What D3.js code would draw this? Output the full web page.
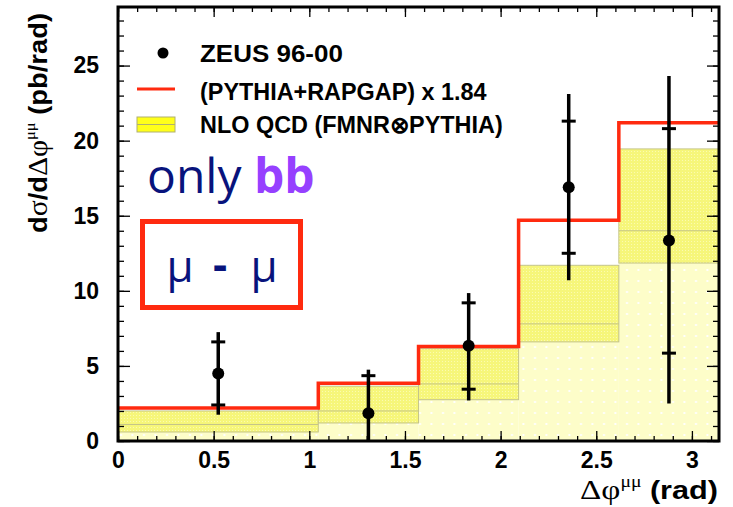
<!DOCTYPE html>
<html><head><meta charset="utf-8">
<script src="https://cdn.jsdelivr.net/npm/d3@7"></script>
<style>body{margin:0;background:#fff} svg{display:block}</style>
</head><body>
<svg id="c" width="733" height="507"></svg>
<script>
// ---- data ----
const binEdges   = [0, 1.047, 1.571, 2.094, 2.618, 3.1416];
const dataX      = [0.524, 1.309, 1.833, 2.356, 2.880];
const dataY      = [4.5, 1.85, 6.35, 16.9, 13.35];
const statUp     = [6.6, 4.35, 9.2, 21.3, 20.8];
const statDn     = [2.4, -0.6, 3.45, 12.5, 5.85];
const totUp      = [7.25, 4.75, 9.85, 23.1, 24.3];
const totDn      = [1.75, -1.0, 2.7, 10.7, 2.5];
const mcScaled   = [2.2, 3.85, 6.3, 14.7, 21.2];
const nloUp      = [2.0, 3.65, 6.15, 11.7, 19.45];
const nloCentral = [1.1, 2.0, 3.8, 7.8, 14.0];
const nloLow     = [0.6, 1.2, 2.75, 6.6, 11.85];
const xTickVals  = [0, 0.5, 1, 1.5, 2, 2.5, 3];
const xTickLabels= ["0", "0.5", "1", "1.5", "2", "2.5", "3"];
const yTickVals  = [0, 5, 10, 15, 20, 25];
const yTickLabels= ["0", "5", "10", "15", "20", "25"];
const legendLabels = ["ZEUS 96-00", "(PYTHIA+RAPGAP) x 1.84", "NLO QCD (FMNR\u2297PYTHIA)"];

// ---- setup ----
const svg = d3.select("#c");
const L = 118, R = 719, T = 7, B = 441;
const x = d3.scaleLinear().domain([0, 3.1416]).range([L, R]);
const y = d3.scaleLinear().domain([0, 28.9]).range([B, T]);
const RED = "#ff2a0f", NAVY = "#08137c", PURPLE = "#9640ff";
const SANS = "'Liberation Sans', Arial, Helvetica, sans-serif";
const GREEK = "'Liberation Serif', 'DejaVu Serif', serif";

const defs = svg.append("defs");
defs.append("clipPath").attr("id", "clip").append("rect")
  .attr("x", L).attr("y", T).attr("width", R - L).attr("height", B - T);
const pl = defs.append("pattern").attr("id", "light").attr("patternUnits", "userSpaceOnUse")
  .attr("width", 11.5).attr("height", 11);
pl.append("rect").attr("width", 11.5).attr("height", 11).attr("fill", "#fdfdc9");
pl.append("rect").attr("x", 5).attr("y", 5).attr("width", 2).attr("height", 2).attr("fill", "#ffffff");
const pb = defs.append("pattern").attr("id", "band").attr("patternUnits", "userSpaceOnUse")
  .attr("width", 3).attr("height", 3);
pb.append("rect").attr("width", 3).attr("height", 3).attr("fill", "#f6f67a");
pb.append("rect").attr("x", 1).attr("y", 1).attr("width", 1).attr("height", 1).attr("fill", "#fbfbb0");

const plot = svg.append("g").attr("clip-path", "url(#clip)");
const bins = d3.range(5);

// light region 0 -> lower
plot.selectAll("rect.light").data(bins).join("rect").attr("class", "light")
  .attr("x", i => x(binEdges[i])).attr("width", i => x(binEdges[i + 1]) - x(binEdges[i]))
  .attr("y", i => y(nloLow[i])).attr("height", i => y(0) - y(nloLow[i]))
  .attr("fill", "url(#light)");
// band lower -> upper
plot.selectAll("rect.band").data(bins).join("rect").attr("class", "band")
  .attr("x", i => x(binEdges[i])).attr("width", i => x(binEdges[i + 1]) - x(binEdges[i]))
  .attr("y", i => y(nloUp[i])).attr("height", i => y(nloLow[i]) - y(nloUp[i]))
  .attr("fill", "url(#band)").attr("stroke", "#c4c48a").attr("stroke-width", 1);
plot.selectAll("line.central").data(bins).join("line").attr("class", "central")
  .attr("x1", i => x(binEdges[i])).attr("x2", i => x(binEdges[i + 1]))
  .attr("y1", i => y(nloCentral[i])).attr("y2", i => y(nloCentral[i]))
  .attr("stroke", "#c4c48a").attr("stroke-width", 1);

// red step line
const stepPts = bins.map(i => [binEdges[i], mcScaled[i]]).concat([[binEdges[5], mcScaled[4]]]);
plot.append("path").datum(stepPts)
  .attr("d", d3.line().x(d => x(d[0])).y(d => y(d[1])).curve(d3.curveStepAfter))
  .attr("fill", "none").attr("stroke", RED).attr("stroke-width", 3.5);

// error bars
const eb = plot.append("g");
eb.selectAll("line.err").data(bins).join("line").attr("class", "err")
  .attr("x1", i => x(dataX[i])).attr("x2", i => x(dataX[i]))
  .attr("y1", i => y(totDn[i])).attr("y2", i => y(totUp[i]))
  .attr("stroke", "#000").attr("stroke-width", 3.5);
[statUp, statDn].forEach(arr => {
  eb.selectAll(null).data(bins).join("line")
    .attr("x1", i => x(dataX[i]) - 7).attr("x2", i => x(dataX[i]) + 7)
    .attr("y1", i => y(arr[i])).attr("y2", i => y(arr[i]))
    .attr("stroke", "#000").attr("stroke-width", 3);
});
eb.selectAll("circle").data(bins).join("circle")
  .attr("cx", i => x(dataX[i])).attr("cy", i => y(dataY[i])).attr("r", 6).attr("fill", "#000");

// ---- axes ----
function styleAxis(g) {
  g.select(".domain").remove();
  g.selectAll(".tick line").attr("stroke", "#000").attr("stroke-width", 1.3);
  g.selectAll(".tick text").attr("font-family", SANS).attr("font-weight", "bold")
    .attr("font-size", 23).attr("fill", "#000");
}
const xMinor = d3.range(0, 3.15, 0.1);
const yMinor = d3.range(0, 29, 1);
svg.append("g").attr("transform", `translate(0,${B})`)
  .call(d3.axisBottom(x).tickValues(xMinor).tickSize(-5).tickFormat("")).call(styleAxis);
svg.append("g").attr("transform", `translate(0,${B})`)
  .call(d3.axisBottom(x).tickValues(xTickVals).tickSize(-10).tickPadding(11)
    .tickFormat((d, i) => xTickLabels[i])).call(styleAxis);
svg.append("g").attr("transform", `translate(0,${T})`)
  .call(d3.axisTop(x).tickValues(xMinor).tickSize(-5).tickFormat("")).call(styleAxis);
svg.append("g").attr("transform", `translate(0,${T})`)
  .call(d3.axisTop(x).tickValues(xTickVals).tickSize(-10).tickFormat("")).call(styleAxis);
svg.append("g").attr("transform", `translate(${L},0)`)
  .call(d3.axisLeft(y).tickValues(yMinor).tickSize(-6).tickFormat("")).call(styleAxis);
svg.append("g").attr("transform", `translate(${L},0)`)
  .call(d3.axisLeft(y).tickValues(yTickVals).tickSize(-12).tickPadding(19)
    .tickFormat((d, i) => yTickLabels[i])).call(styleAxis);
svg.append("g").attr("transform", `translate(${R},0)`)
  .call(d3.axisRight(y).tickValues(yMinor).tickSize(-6).tickFormat("")).call(styleAxis);
svg.append("g").attr("transform", `translate(${R},0)`)
  .call(d3.axisRight(y).tickValues(yTickVals).tickSize(-12).tickFormat("")).call(styleAxis);
svg.append("rect").attr("x", L).attr("y", T).attr("width", R - L).attr("height", B - T)
  .attr("fill", "none").attr("stroke", "#000").attr("stroke-width", 3);

// helper: stretch text horizontally (in its own frame) to a target width about its anchor x
function fit(t, w) {
  const bb = t.node().getBBox();
  const k = w / bb.width;
  const x0 = +t.attr("x") || 0;
  t.attr("transform", `translate(${x0 * (1 - k)},0) scale(${k},1)`);
}

// ---- axis titles ----
const xl = svg.append("text").attr("x", 718).attr("y", 499).attr("text-anchor", "end")
  .attr("font-family", SANS).attr("font-size", 25).attr("font-weight", "bold").attr("fill", "#000");
xl.append("tspan").attr("font-family", GREEK).attr("font-weight", "normal").attr("font-size", 27).text("\u0394\u03c6");
xl.append("tspan").attr("font-family", GREEK).attr("font-weight", "normal").attr("font-size", 16).attr("dy", -12).text("\u03bc\u03bc");
xl.append("tspan").attr("dy", 12).text(" (rad)");
fit(xl, 138);

const yg = svg.append("g").attr("transform", "translate(47,13) rotate(-90)");
const yl = yg.append("text").attr("x", 0).attr("y", 0).attr("text-anchor", "end")
  .attr("font-family", SANS).attr("font-size", 25).attr("font-weight", "bold").attr("fill", "#000");
yl.append("tspan").text("d");
yl.append("tspan").attr("font-family", GREEK).attr("font-weight", "normal").attr("font-size", 27).text("\u03c3");
yl.append("tspan").text("/d");
yl.append("tspan").attr("font-family", GREEK).attr("font-weight", "normal").attr("font-size", 27).text("\u0394\u03c6");
yl.append("tspan").attr("font-family", GREEK).attr("font-weight", "normal").attr("font-size", 15).attr("dy", -12).text("\u03bc\u03bc");
yl.append("tspan").attr("dy", 12).text(" (pb/rad)");
fit(yl, 220);

// ---- legend ----
const lg = svg.append("g");
lg.append("circle").attr("cx", 163).attr("cy", 53).attr("r", 5.5).attr("fill", "#000");
lg.append("line").attr("x1", 137).attr("x2", 175).attr("y1", 89).attr("y2", 89)
  .attr("stroke", RED).attr("stroke-width", 3);
lg.append("rect").attr("x", 137).attr("y", 117).attr("width", 38).attr("height", 15)
  .attr("fill", "#ffff1a").attr("stroke", "#b0b070").attr("stroke-width", 1);
lg.append("line").attr("x1", 137).attr("x2", 175).attr("y1", 124.5).attr("y2", 124.5)
  .attr("stroke", "#b0b070").attr("stroke-width", 1);
const legY = [62, 100, 133], legW = [143, 287, 303];
legendLabels.forEach((s, i) => {
  const t = lg.append("text").attr("x", 200).attr("y", legY[i])
    .attr("font-family", SANS).attr("font-size", 23).attr("font-weight", "bold").attr("fill", "#000").text(s);
  fit(t, legW[i]);
});

// ---- annotations ----
const ob = svg.append("text").attr("x", 147).attr("y", 193)
  .attr("font-family", "'Open Sans', 'Noto Sans', sans-serif").attr("font-size", 48).attr("fill", NAVY);
ob.append("tspan").text("only ");
ob.append("tspan").attr("font-weight", "bold").attr("fill", PURPLE).text("bb");

svg.append("rect").attr("x", 142.5).attr("y", 221.5).attr("width", 158).attr("height", 86)
  .attr("fill", "none").attr("stroke", RED).attr("stroke-width", 5);
const mu = svg.append("g").attr("font-family", "'Open Sans', 'Noto Sans', sans-serif")
  .attr("font-size", 44).attr("fill", NAVY).attr("text-anchor", "middle");
mu.append("text").attr("x", 180).attr("y", 282).text("\u03bc");
mu.append("text").attr("x", 220).attr("y", 280).attr("font-weight", "bold").text("-");
mu.append("text").attr("x", 264).attr("y", 282).text("\u03bc");
</script>
</body></html>
